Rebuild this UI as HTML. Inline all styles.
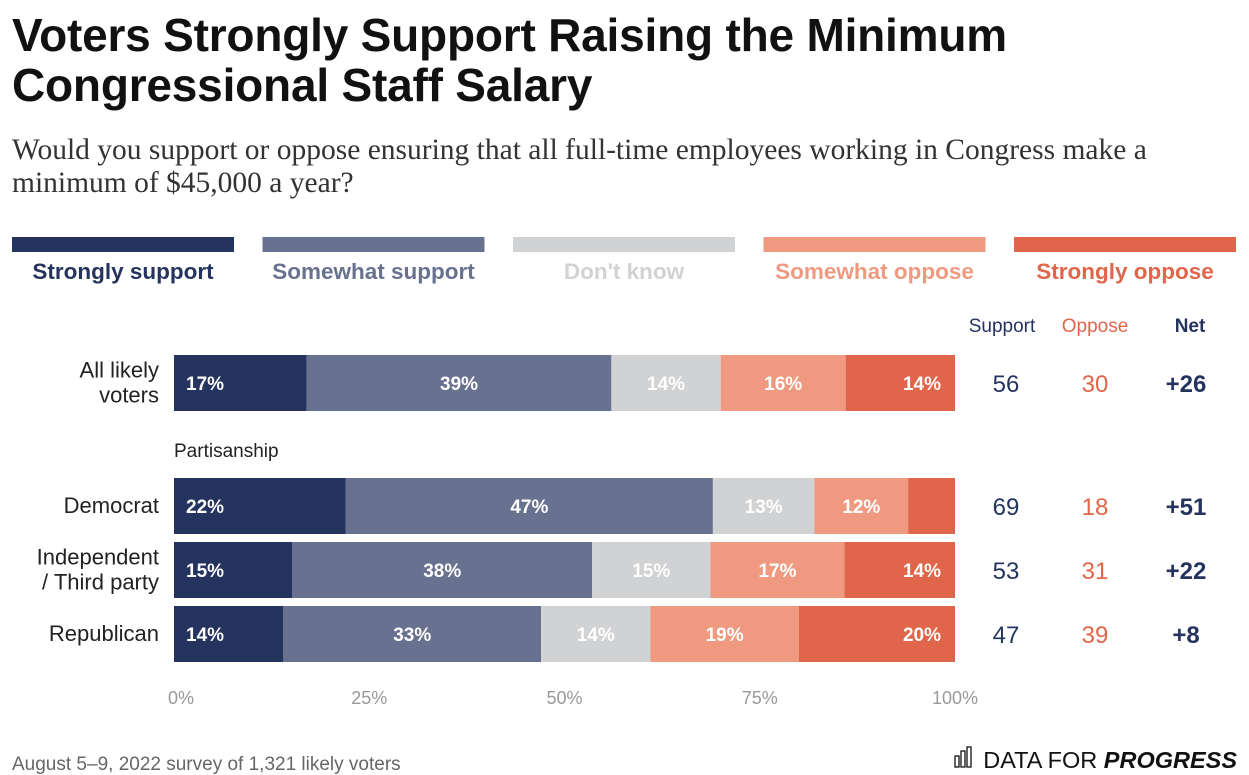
<!DOCTYPE html>
<html><head><meta charset="utf-8">
<style>
body{margin:0;background:#fff;width:1249px;height:775px;overflow:hidden;font-family:"Liberation Sans",sans-serif;position:relative}
h1{position:absolute;left:12px;top:10px;margin:0;font-size:46px;line-height:50px;font-weight:bold;color:#111;letter-spacing:-0.2px}
.sub{position:absolute;left:12px;top:134px;font-family:"Liberation Serif",serif;font-size:29.5px;line-height:33px;color:#333}
</style></head><body>
<h1>Voters Strongly Support Raising the Minimum<br>Congressional Staff Salary</h1>
<div class="sub">Would you support or oppose ensuring that all full-time employees working in Congress make a<br>minimum of $45,000 a year?</div>
<svg id="chart" width="1249" height="775" style="position:absolute;left:0;top:0"></svg>
<script>
const categories=["All likely\nvoters","Democrat","Independent\n/ Third party","Republican"];
const strongSupport=[17,22,15,14];
const someSupport=[39,47,38,33];
const dontKnow=[14,13,15,14];
const someOppose=[16,12,17,19];
const strongOppose=[14,6,14,20];
const showStrongOppLabel=[true,false,true,true];
const supportTotals=[56,69,53,47];
const opposeTotals=[30,18,31,39];
const netVals=["+26","+51","+22","+8"];
const ticks=[0,25,50,75,100];
const seriesNames=["Strongly support","Somewhat support","Don't know","Somewhat oppose","Strongly oppose"];
const colors=["#25335f","#68718f","#d1d2d4","#ef9a80","#e0654a"];
const legendText=["#25335f","#68718f","#d1d2d4","#ef9a80","#e0654a"];
const rowY=[355,478,542,606], rowH=56;
const X0=174,X1=955;
const xs=v=>X0+(X1-X0)*v/100;
const svg=document.getElementById('chart');
const NS="http://www.w3.org/2000/svg";
function mk(tag,attrs,txt){const e=document.createElementNS(NS,tag);for(const k in attrs)e.setAttribute(k,attrs[k]);if(txt!==undefined)e.textContent=txt;svg.appendChild(e);return e;}
seriesNames.forEach((n,i)=>{
  const lx=12+i*250.5;
  const r=mk('rect',{x:lx,y:237,width:222,height:15,fill:colors[i]});
  
  
  const t=mk('text',{x:lx+111,y:279,'text-anchor':'middle','font-size':22.5,'font-weight':'bold',fill:legendText[i]},n);
  
  
});
[["Support",1002,"#25335f","normal"],["Oppose",1095,"#e0654a","normal"],["Net",1190,"#25335f","bold"]].forEach(h=>{
  const t=mk('text',{x:h[1],y:332,'text-anchor':'middle','font-size':19,fill:h[2],'font-weight':h[3]},h[0]);
  
  
});
const p=mk('text',{x:174,y:457,'font-size':19,fill:'#222'},"Partisanship");


const all=[strongSupport,someSupport,dontKnow,someOppose,strongOppose];
categories.forEach((c,r)=>{
  const y=rowY[r];
  const lines=c.split("\n");
  lines.forEach((l,k)=>{
    const t=mk('text',{x:159,y:y+rowH/2+7+(k-(lines.length-1)/2)*25,'text-anchor':'end','font-size':22,fill:'#222'},l);
    
    
  });
  const total=all.reduce((s,a)=>s+a[r],0);
  let cum=0;
  all.forEach((s,i)=>{
    const v=s[r];
    const a=xs(cum*100/total),b=xs((cum+v)*100/total);
    const rect=mk('rect',{x:a,y:y,width:b-a,height:rowH,fill:colors[i]});
    
    
    if(!(i===4&&!showStrongOppLabel[r])){
      const tx=i===0?a+12:(i===4?b-14:(a+b)/2);
      const t=mk('text',{x:tx,y:y+rowH/2+7,'text-anchor':i===0?'start':(i===4?'end':'middle'),'font-size':19,'font-weight':'bold',fill:'#fff'},v+"%");
      
      
    }
    cum+=v;
  });
  [[supportTotals[r],1006,"#25335f","normal"],[opposeTotals[r],1095,"#e0654a","normal"],[netVals[r],1186,"#25335f","bold"]].forEach(h=>{
    const t=mk('text',{x:h[1],y:y+rowH/2+9,'text-anchor':'middle','font-size':24,fill:h[2],'font-weight':h[3]},h[0]);
    
    
  });
});
ticks.forEach(tk=>{
  const t=mk('text',{x:xs(tk)+(tk===0?7:0),y:704,'text-anchor':'middle','font-size':18,fill:'#999'},tk+"%");
  
  
});
const f=mk('text',{x:12,y:770,'font-size':19,fill:'#666'},"August 5–9, 2022 survey of 1,321 likely voters");


const logo=mk('text',{x:1237,y:768,'text-anchor':'end','font-size':23.5,fill:'#111'});
logo.innerHTML='DATA FOR <tspan font-weight="bold" font-style="italic">PROGRESS</tspan>';


[[955,756,4,11],[961,751,4,16],[967,747,4,20]].forEach(b=>{
  const r=mk('rect',{x:b[0],y:b[1],width:b[2],height:b[3],fill:'none',stroke:'#111','stroke-width':1.3});
  
  
});
</script>
</body></html>
